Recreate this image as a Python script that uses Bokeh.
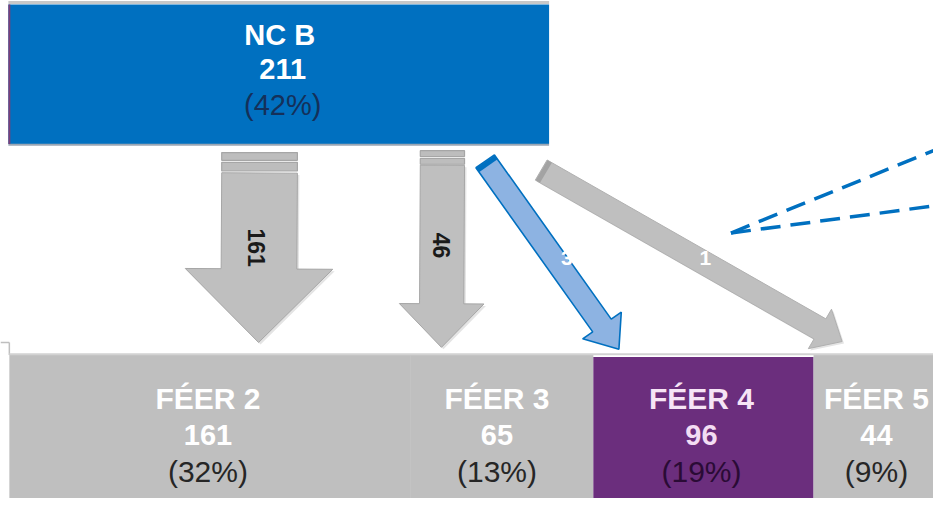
import math
from bokeh.plotting import figure
from bokeh.models import Range1d
from bokeh.core.properties import value
from bokeh.embed import file_html
from bokeh.resources import INLINE

# ---------------- data ----------------
source_label = "NC B"
source_value = 211
source_pct = 42
dest_labels = ["FÉER 2", "FÉER 3", "FÉER 4", "FÉER 5"]
dest_values = [161, 65, 96, 44]
dest_pcts = [32, 13, 19, 9]
flow_values = [161, 46, 3, 1]

# ---------------- layout (reference pixel frame, y down) ----------------
W, H = 933, 498
FRAME_W, FRAME_H = 949, 514
FONT = "Liberation Sans"

GRAY = "#BFBFBF"
GRAY_LINE = "#A6A6A6"
BLUE = "#0070C0"
PURPLE = "#6B2E7D"

src_box = dict(left=8, right=558, top=4, bottom=148)
dest_edges = [9, 417, 603, 827, 962]
dest_tops = [366, 366, 368, 366]
dest_bottom = 514
dest_fill = [GRAY, GRAY, PURPLE, GRAY]
dest_cx = [211, 505, 713, 891]
dest_name_col = ["#FFFFFF", "#FFFFFF", "#F6E4F6", "#FFFFFF"]
dest_val_col = ["#FFFFFF", "#FFFFFF", "#F3DDF3", "#FFFFFF"]
dest_pct_col = ["#262626", "#262626", "#2A0B35", "#262626"]


def Y(v):
    return -v


def Ys(vs):
    return [-v for v in vs]


p = figure(width=W, height=H,
           x_range=Range1d(0, FRAME_W), y_range=Range1d(-FRAME_H, 0),
           x_axis_type=None, y_axis_type=None,
           output_backend="svg", toolbar_location=None, min_border=0)
p.outline_line_color = None
p.background_fill_color = "white"
p.border_fill_color = "white"

# ---------- source box ----------
p.segment(x0=[src_box["left"]], x1=[src_box["right"]], y0=[Y(2)], y1=[Y(2)],
          line_color="#C8C8C8", line_width=3)
p.quad(left=[src_box["left"]], right=[src_box["right"]],
       top=[Y(src_box["top"])], bottom=[Y(src_box["bottom"])],
       fill_color=BLUE, line_color=None)
p.segment(x0=[src_box["left"]], x1=[src_box["right"]],
          y0=[Y(src_box["bottom"] + 1)], y1=[Y(src_box["bottom"] + 1)],
          line_color="#9AA6B4", line_width=2)
p.segment(x0=[9], x1=[9], y0=[Y(src_box["top"])], y1=[Y(src_box["bottom"])],
          line_color="#7A3F78", line_width=2)

src_cx = (src_box["left"] + src_box["right"]) / 2 + 1
p.text(x=[src_cx], y=[Y(36)], text=[source_label], text_font=value(FONT),
       text_font_style="bold", text_font_size="29px", text_color="#FFFFFF",
       text_align="center", text_baseline="middle")
p.text(x=[src_cx + 3], y=[Y(71)], text=[str(source_value)], text_font=value(FONT),
       text_font_style="bold", text_font_size="29px", text_color="#FFFFFF",
       text_align="center", text_baseline="middle")
p.text(x=[src_cx + 3], y=[Y(108)], text=["(%d%%)" % source_pct], text_font=value(FONT),
       text_font_size="29px", text_color="#14305A",
       text_align="center", text_baseline="middle")

# ---------- destination boxes ----------
p.segment(x0=[0], x1=[9], y0=[Y(353)], y1=[Y(353)], line_color=GRAY, line_width=1.5)
p.segment(x0=[9], x1=[9], y0=[Y(353)], y1=[Y(366)], line_color=GRAY, line_width=1.5)
p.quad(left=dest_edges[:-1], right=dest_edges[1:],
       top=Ys(dest_tops), bottom=[Y(dest_bottom)] * 4,
       fill_color=dest_fill, line_color=None)
p.segment(x0=[dest_edges[0]], x1=[dest_edges[-1]], y0=[Y(365)], y1=[Y(365)],
          line_color="#D2D2D2", line_width=2)
p.segment(x0=[417], x1=[417], y0=[Y(366)], y1=[Y(514)], line_color="#C3C3C3", line_width=1)

p.text(x=dest_cx, y=[Y(411)] * 4, text=dest_labels, text_font=value(FONT),
       text_font_style="bold", text_font_size="30px", text_color=dest_name_col,
       text_align="center", text_baseline="middle")
p.text(x=dest_cx, y=[Y(448)] * 4, text=[str(v) for v in dest_values], text_font=value(FONT),
       text_font_style="bold", text_font_size="29px", text_color=dest_val_col,
       text_align="center", text_baseline="middle")
p.text(x=dest_cx, y=[Y(486)] * 4, text=["(%d%%)" % v for v in dest_pcts], text_font=value(FONT),
       text_font_size="30px", text_color=dest_pct_col,
       text_align="center", text_baseline="middle")


# ---------- arrows ----------
def arrow_poly(tx, ty, hx, hy, sw, hw, hl):
    dx, dy = hx - tx, hy - ty
    L = math.hypot(dx, dy)
    ux, uy = dx / L, dy / L
    nx, ny = -uy, ux
    bx, by = hx - ux * hl, hy - uy * hl
    pts = [
        (tx + nx * sw / 2, ty + ny * sw / 2),
        (bx + nx * sw / 2, by + ny * sw / 2),
        (bx + nx * hw / 2, by + ny * hw / 2),
        (hx, hy),
        (bx - nx * hw / 2, by - ny * hw / 2),
        (bx - nx * sw / 2, by - ny * sw / 2),
        (tx - nx * sw / 2, ty - ny * sw / 2),
    ]
    return [q[0] for q in pts], [-q[1] for q in pts], (ux, uy, nx, ny)


vert_arrows = [
    dict(cx=263.5, ty=178, tip=353, sw=77, hw=150, hl=76, bands=[(157, 165), (167, 176)],
         lx=260, ly=255),
    dict(cx=449.5, ty=170, tip=358, sw=45, hw=86, hl=45, bands=[(155, 161), (163, 169)],
         lx=449, ly=253),
]
for a, fv in zip(vert_arrows, flow_values[:2]):
    xs, ys, _ = arrow_poly(a["cx"], a["ty"], a["cx"] - 1, a["tip"], a["sw"], a["hw"], a["hl"])
    p.patch([x + 2 for x in xs], [y - 2 for y in ys], fill_color="#E4E4E4", line_color=None)
    p.patch(xs, ys, fill_color=GRAY, line_color=GRAY_LINE, line_width=1)
    for (b0, b1) in a["bands"]:
        p.quad(left=[a["cx"] - a["sw"] / 2], right=[a["cx"] + a["sw"] / 2],
               top=[Y(b0)], bottom=[Y(b1)], fill_color="#BDBDBD",
               line_color=GRAY_LINE, line_width=1.2)
    p.text(x=[a["lx"]], y=[Y(a["ly"])], text=[str(fv)], text_font=value(FONT),
           text_font_style="bold", text_font_size="23px", text_color="#1A1A1A",
           angle=-math.pi / 2, text_align="center", text_baseline="middle")

diag_arrows = [
    dict(tx=493, ty=166, hx=629, hy=360, sw=23, hw=48, hl=30,
         fill="#8DB3E2", line=BLUE, lw=1.6, cap=BLUE, lx=576, ly=266),
    dict(tx=550, ty=175, hx=856, hy=352, sw=24, hw=47, hl=26,
         fill=GRAY, line="#B0B0B0", lw=1, cap="#A3A3A3", lx=717, ly=266),
]
for a, fv in zip(diag_arrows, flow_values[2:]):
    xs, ys, (ux, uy, nx, ny) = arrow_poly(a["tx"], a["ty"], a["hx"], a["hy"], a["sw"], a["hw"], a["hl"])
    if a["fill"] == GRAY:
        p.patch([x + 2 for x in xs], [y - 2 for y in ys], fill_color="#E4E4E4", line_color=None)
    p.patch(xs, ys, fill_color=a["fill"], line_color=a["line"], line_width=a["lw"])
    cx0, cy0 = a["tx"] + ux * 3, a["ty"] + uy * 3
    p.segment(x0=[cx0 + nx * a["sw"] / 2], y0=[Y(cy0 + ny * a["sw"] / 2)],
              x1=[cx0 - nx * a["sw"] / 2], y1=[Y(cy0 - ny * a["sw"] / 2)],
              line_color=a["cap"], line_width=5)
    p.text(x=[a["lx"]], y=[Y(a["ly"])], text=[str(fv)], text_font=value(FONT),
           text_font_style="bold", text_font_size="21px", text_color="#FFFFFF",
           text_align="center", text_baseline="middle")

# dashed callout lines
p.multi_line(xs=[[743, 949], [743, 949]], ys=[[Y(240), Y(155)], [Y(240), Y(212)]],
             line_color=BLUE, line_width=3.5, line_dash="20 10")

open("out.html", "w").write(file_html(p, INLINE))
